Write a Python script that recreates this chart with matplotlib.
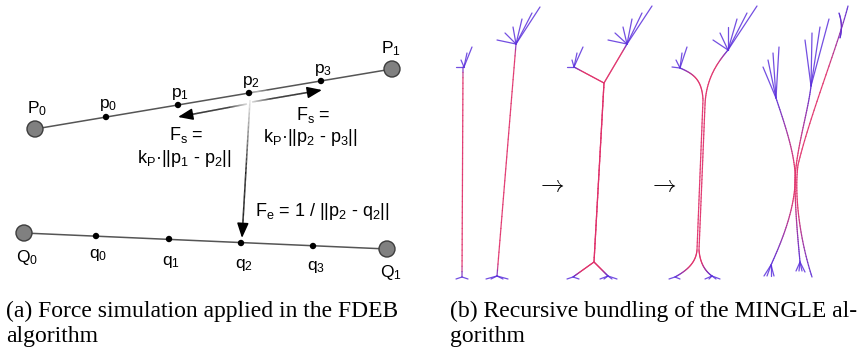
import numpy as np
import matplotlib
matplotlib.use('Agg')
import matplotlib.pyplot as plt
from matplotlib.patches import Circle
from matplotlib.collections import LineCollection
from matplotlib.bezier import BezierSegment
from matplotlib.colors import to_rgb

plt.rcParams['font.family'] = ['Liberation Sans', 'DejaVu Sans']
plt.rcParams['mathtext.fontset'] = 'custom'
plt.rcParams['mathtext.rm'] = 'Liberation Sans'
plt.rcParams['mathtext.it'] = 'Liberation Sans'

# ---- (a) FDEB, everything in pixel coords of the original figure
P_ends = [(35, 129), (392, 69)]
Q_ends = [(24, 233), (387, 249)]
p_pts = [(106, 117), (178, 105), (249, 93), (321, 81)]
q_pts = [(96, 236), (169, 239), (241, 243), (313, 246)]
P_labels = [r'$\mathrm{P_0}$', r'$\mathrm{P_1}$']
Q_labels = [r'$\mathrm{Q_0}$', r'$\mathrm{Q_1}$']
p_labels = [r'$\mathrm{p_0}$', r'$\mathrm{p_1}$', r'$\mathrm{p_2}$', r'$\mathrm{p_3}$']
q_labels = [r'$\mathrm{q_0}$', r'$\mathrm{q_1}$', r'$\mathrm{q_2}$', r'$\mathrm{q_3}$']
# label anchors (x centre, baseline)
P_lab_xy = [(37, 113), (391, 53)]
p_lab_xy = [(108, 108), (180, 97), (251, 85), (323, 73)]
Q_lab_xy = [(27, 262), (391, 277)]
q_lab_xy = [(98, 258), (171, 265), (244, 268), (316, 270)]

# force arrows: (tail, tip)
arrow_left = [(247, 104), (178, 117)]
arrow_right = [(252, 102), (322, 90)]
arrow_down = [(250, 100), (242, 238)]

# formula texts: (x centre, baseline, text)
formulas = [
    (186, 140, r'$\mathrm{F_s}$ ='),
    (184, 163, r'$\mathrm{k_P}$·||$\mathrm{p_1}$ - $\mathrm{p_2}$||'),
    (313, 120, r'$\mathrm{F_s}$ ='),
    (310, 142, r'$\mathrm{k_P}$·||$\mathrm{p_2}$ - $\mathrm{p_3}$||'),
    (322, 216, r'$\mathrm{F_e}$ = 1 / ||$\mathrm{p_2}$ - $\mathrm{q_2}$||'),
]

# ---- (b) MINGLE, 4 stages; each edge = list of bezier segments
stage1 = [
    [[(463, 67), (462, 277)]],
    [[(516, 44), (497, 276)]],
]
stage2 = [
    [[(574, 67), (604, 83)], [(604, 83), (594, 262)], [(594, 262), (573, 277)]],
    [[(627, 44), (604, 83)], [(604, 83), (594, 262)], [(594, 262), (608, 276)]],
]
stage3 = [
    [[(680, 68), (694, 74), (702, 80), (703, 100)], [(703, 100), (697, 250)],
     [(697, 250), (696, 262), (688, 270), (675, 277)]],
    [[(728, 50), (718, 62), (706, 78), (705, 105)], [(705, 105), (699, 250)],
     [(699, 250), (700, 263), (705, 271), (712, 276)]],
]
stage4 = [
    [[(776, 98), (786, 128), (797, 160), (795, 185)],
     [(795, 185), (793, 215), (780, 245), (771, 265)]],
    [[(811, 86), (808, 112), (796, 150), (795, 180)],
     [(795, 180), (795, 210), (798, 240), (800, 262)]],
    [[(848, 6), (838, 45), (810, 115), (798, 165)],
     [(798, 165), (794, 195), (800, 240), (812, 277)]],
    [[(839, 13), (842, 22), (842, 30), (840, 38)]],
]
# fans: (junction, endpoints)
fans = [
    ((464, 67), [(456, 67), (461, 60), (467, 53), (472, 47)]),
    ((516, 44), [(497, 40), (505, 33), (513, 27), (522, 19), (532, 13), (540, 7)]),
    ((574, 67), [(567, 67), (572, 60), (577, 53), (583, 47)]),
    ((627, 44), [(608, 40), (615, 33), (623, 27), (632, 19), (642, 13), (652, 6)]),
    ((680, 68), [(672, 67), (676, 60), (682, 53), (687, 47)]),
    ((728, 50), [(713, 40), (720, 33), (728, 27), (737, 19), (747, 13), (757, 6)]),
    ((776, 98), [(763, 67), (768, 60), (773, 53), (779, 47)]),
    ((811, 86), [(805, 40), (812, 33), (820, 27), (829, 19)]),
    # bottom ones
    ((462, 277), [(456, 279), (468, 279)]),
    ((497, 276), [(486, 279), (491, 279), (503, 279), (508, 279)]),
    ((573, 277), [(567, 279), (579, 279)]),
    ((608, 276), [(600, 279), (604, 279), (612, 279), (617, 279)]),
    ((675, 277), [(669, 279), (680, 279)]),
    ((712, 276), [(705, 279), (709, 279), (716, 279), (720, 279)]),
    ((771, 265), [(764, 276), (767, 276), (771, 276), (774, 276)]),
    ((800, 262), [(796, 271), (799, 271), (802, 271), (805, 272)]),
]
stage_arrows = [(550, 185), (662, 185)]

cap_a = ['(a) Force simulation applied in the FDEB', 'algorithm']
cap_b = ['(b) Recursive bundling of the MINGLE al-', 'gorithm']

violet = np.array(to_rgb('#5a2fd8'))
crimson = np.array(to_rgb('#e0306a'))


def curve_pts(segs):
    out = []
    for s in segs:
        pts = BezierSegment(np.array(s, float)).point_at_t(np.linspace(0, 1, 40))
        out.append(pts if not out else pts[1:])
    return np.vstack(out)


def draw_edge(ax, segs, ramp=14, lw=0.9):
    pts = curve_pts(segs)
    d = np.r_[0, np.cumsum(np.hypot(*np.diff(pts, axis=0).T))]
    w = np.clip(np.minimum(d, d[-1] - d) / ramp, 0, 1)
    m = (w[:-1] + w[1:]) / 2
    cols = violet[None] * (1 - m[:, None]) + crimson[None] * m[:, None]
    lc = LineCollection(np.stack([pts[:-1], pts[1:]], 1), colors=cols,
                        linewidths=lw, alpha=0.9, capstyle='round')
    ax.add_collection(lc)


def fade_line(ax, a, b, c0, c1, lw=1.1, n=60):
    t = np.linspace(0, 1, n)[:, None]
    pts = np.array(a) * (1 - t) + np.array(b) * t
    tc = (t[:-1] + t[1:]) / 2
    cols = np.array(to_rgb(c0)) * (1 - tc) + np.array(to_rgb(c1)) * tc
    ax.add_collection(LineCollection(np.stack([pts[:-1], pts[1:]], 1),
                                     colors=np.clip(cols, 0, 1), linewidths=lw))


fig = plt.figure(figsize=(8.57, 3.57), dpi=100)
ax = fig.add_axes([0, 0, 1, 1])
ax.set_xlim(0, 857)
ax.set_ylim(357, 0)
ax.axis('off')

# --- panel a
for ends in (P_ends, Q_ends):
    ax.plot(*zip(*ends), color='#555555', lw=1.1, zorder=1)
# white glow next to p2
for r, a in [(14, 0.25), (10, 0.35), (6, 0.5)]:
    ax.add_patch(Circle((258, 101), r, color='white', alpha=a, lw=0, zorder=2))
for (x, y) in P_ends + Q_ends:
    ax.add_patch(Circle((x, y), 8, fc='#808080', ec='#3c3c3c', lw=1, zorder=4))
for (x, y) in p_pts + q_pts:
    ax.add_patch(Circle((x, y), 3.2, fc='black', ec='none', zorder=4))

fs = 12.5
for xy_list, labs in [(P_lab_xy, P_labels), (p_lab_xy, p_labels),
                      (Q_lab_xy, Q_labels), (q_lab_xy, q_labels)]:
    for (x, y), lab in zip(xy_list, labs):
        ax.text(x, y, lab, ha='center', va='baseline', fontsize=fs)

# arrows with faded tails
for (tail, tip), c0 in [(arrow_left, '#d0d0d0'), (arrow_right, '#d0d0d0'), (arrow_down, '#e8e8e8')]:
    v = np.array(tip, float) - np.array(tail, float)
    v /= np.hypot(*v)
    base = np.array(tip) - v * 12
    mid = np.array(tail) + (base - np.array(tail)) * (0.6 if c0 == '#e8e8e8' else 0.3)
    fade_line(ax, tail, mid, c0, '#111111')
    fade_line(ax, mid, base, '#111111', '#000000')
    ax.annotate('', xy=tip, xytext=base,
                arrowprops=dict(arrowstyle='-|>,head_length=0.9,head_width=0.35',
                                color='black', lw=1.1, shrinkA=0, shrinkB=0))

for x, y, s in formulas:
    ax.text(x, y, s, ha='center', va='baseline', fontsize=13)

# --- panel b
for e in stage1 + stage2:
    draw_edge(ax, e, ramp=10)
for e in stage3:
    draw_edge(ax, e, ramp=18)
for e in stage4:
    draw_edge(ax, e, ramp=70)
for j, ends in fans:
    for e in ends:
        ax.plot([j[0], e[0]], [j[1], e[1]], color='#5b30dc', lw=0.9, alpha=0.85,
                solid_capstyle='round')
for (x, y) in stage_arrows:
    ax.text(x, y, r'$\rightarrow$', ha='center', va='center', fontsize=17,
            color='black', math_fontfamily='cm')

# --- captions
for i, (la, lb) in enumerate(zip(cap_a, cap_b)):
    y = 317 + 25 * i
    ax.text(6, y, la, ha='left', va='baseline', fontsize=17, family='Liberation Serif')
    ax.text(450, y, lb, ha='left', va='baseline', fontsize=17, family='Liberation Serif')

fig.savefig('out.png', dpi=100)
